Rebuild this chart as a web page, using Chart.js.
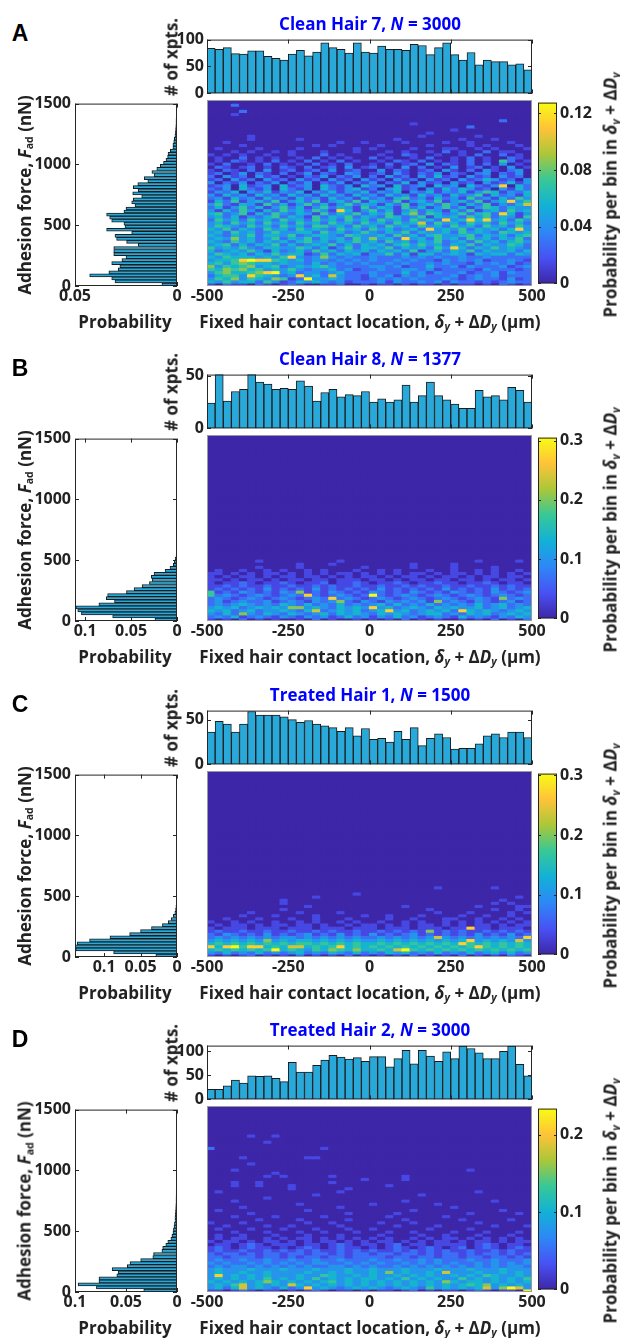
<!DOCTYPE html>
<html>
<head>
<meta charset="utf-8">
<script src="https://cdn.jsdelivr.net/npm/chart.js@4.4.1/dist/chart.umd.min.js"></script>
<style>
body { margin: 0; background: #fff; }
#fig { position: relative; width: 620px; height: 1338px; overflow: hidden;
       font-family: 'Open Sans', sans-serif; font-weight: 700; color: #222; }
#fig canvas { position: absolute; }
.txt { position: absolute; white-space: nowrap; transform: translate(-50%, -50%); font-size: 17px; line-height: 1; }
.rot { transform: translate(-50%, -50%) rotate(-90deg); }
.title { color: #0000ff; }
.letter { font-family: 'Liberation Sans', Arial, sans-serif; font-size: 23px; color: #000; }
.txt sub { font-size: 62%; vertical-align: -0.25em; line-height: 0; }
</style>
</head>
<body>
<div id="fig"></div>
<script>
// --- Axes shared by all panels ---
const LOC_MIN = -500, LOC_MAX = 500, LOC_STEP = 25;      // contact location bins (µm)
const FORCE_MAX = 1500, FORCE_STEP = 25;                  // adhesion force bins (nN)
const LOC_TICKS = [-500, -250, 0, 250, 500];
const FORCE_TICKS = [0, 500, 1000, 1500];

// --- Panel A: Clean Hair 7 ---
const countsA = [84, 82, 85, 74, 73, 79, 79, 69, 65, 62, 73, 80, 70, 77, 94, 85, 82, 75, 94, 77,
                 75, 88, 82, 82, 80, 91, 89, 72, 85, 94, 72, 62, 76, 53, 62, 59, 59, 53, 55, 44];
const probA = [0.0074, 0.0304, 0.032, 0.0428, 0.0334, 0.0288, 0.028, 0.032, 0.027, 0.025,
               0.031, 0.031, 0.031, 0.019, 0.0247, 0.0296, 0.0304, 0.0222, 0.0345, 0.0255,
               0.026, 0.032, 0.033, 0.0345, 0.026, 0.025, 0.0206, 0.0222, 0.0214, 0.0173,
               0.0217, 0.019, 0.0214, 0.0192, 0.0143, 0.016, 0.0112, 0.0123, 0.0099, 0.0082,
               0.0066, 0.0054, 0.0046, 0.0044, 0.0033, 0.002, 0.002, 0.0016, 0.0013, 0.001,
               0.0008, 0.0007, 0.0006, 0.0005, 0.0005, 0.0004, 0.0003, 0.0003, 0.0002, 0.0002];
// heat map rows from 0 nN upward, one digit per location bin: 0..9 of the colour bar range
const heatA = [
  "1021102101210011200101101011010110102101",
  "4353442531243432312223132232313221212322",
  "3546354365129334322123232322232123221312",
  "2455385432383427322132313232223123231222",
  "3564456893423323422232224231322312231322",
  "5465645343532334231223223323122221322212",
  "6354563452343453222233231224223132223123",
  "4535654434332423232322323223232213232312",
  "3445898854342332323232232322132323122321",
  "4354443435832363232232223232322322322222",
  "3543424353441252434133524144234314344243",
  "4234353142342534243424342513424352433424",
  "5343532443354241352443524342538424353432",
  "3452424352423435242434245353424352433542",
  "4325342434245342435342534243523425342453",
  "3436342352435243425363428342534253424352",
  "4324352443523443254334253424533452434245",
  "3425342353344253423532435243342534325434",
  "4352432534253432534253423428343524342483",
  "3543253425342553425342534253425342534253",
  "3425342534253425342534253472534253425342",
  "2534253425342534253425342534283484834253",
  "3424132452431524352432542351434253524315",
  "4523514253243152435243514625423524528413",
  "3142531425342531841352413524314251342534",
  "2413524135241352431524315241352413542433",
  "3521431524135241352431425134253142513247",
  "1425134251342513425143251342513425134835",
  "2314231423142314231423145231423152314253",
  "3142314231423142314231423142314235142314",
  "1324032413240324132413240324132413541324",
  "2130421304213042134120341203142431203142",
  "1230412304123042130423041230423042138042",
  "3021302130213021302130214031203120312413",
  "1203120312031203120312031203120312431203",
  "2031203120102130213020312031412031203120",
  "1201302102013021032012031021302102302130",
  "1021020301201203012003021012031020310230",
  "0210120102102012030120103020103012010301",
  "1020010201010201020010201203021020203010",
  "0102101020102010201001021020101020105201",
  "0100201010010201010020100102001020100210",
  "1010100100100020100001002100100102002010",
  "0001010010100010001000101001020100201100",
  "0100001000010000001010000100011001010001",
  "0000100000000101000001000001000010100010",
  "0010000000000000100100001000010010000100",
  "0000010000010000000000010000000100010000",
  "0000010000000000000000000010000001000000",
  "0000000000000000000000000001000000000000",
  "0000000000000000000000000000001000000000",
  "0000000000000000000000000000000020000000",
  "0000000000000000000000000100000000000000",
  "0000000000000000000000000000000000002000",
  "",
  "0001000000000000000000000000000000000000",
  "0000200000000000000000000000000000000000",
  "",
  "0002000000000000000000000000000000000000"
];

// --- Panel B: Clean Hair 8 ---
const countsB = [24, 52, 26, 35, 37, 52, 44, 42, 37, 38, 37, 45, 40, 26, 34, 37, 30, 32, 31, 35,
                 25, 28, 25, 27, 41, 25, 31, 44, 31, 27, 23, 19, 19, 36, 30, 31, 27, 39, 36, 25];
const probB = [0.024, 0.07, 0.104, 0.108, 0.11, 0.085, 0.068, 0.077, 0.0755, 0.055,
               0.0467, 0.038, 0.03, 0.027, 0.028, 0.025, 0.013, 0.0076, 0.004, 0.003, 0.002, 0.001];
const heatB = [
  "1010201010010201001010102010100101020102",
  "2324123213213231242313242312321423213243",
  "3242632432432342434324343234423243423434",
  "4342342334324723434234834234342843432343",
  "3434234343663432434383423432434334234234",
  "2323432324324232423234242324232324234232",
  "2312322312321323621321323231623213212312",
  "2321232123212328232123212321232123216232",
  "5232123212328212321292123212321232123212",
  "5121321213261213212132121321213212132123",
  "1212121312121312121213121212131212131212",
  "1121211211211212112112112121121121121211",
  "1011210112101120112101121011211011210110",
  "1101011010110110111011010110110110101101",
  "1010110101101101010110101101011010110110",
  "1101010110101010110101010110101101010101",
  "0100100101001010001001010001001001010010",
  "0000001000010000000100000100001000010000",
  "0000000000010001000000000100001000000000",
  "0000001000000000100000000000000001000010"
];

// --- Panel C: Treated Hair 1 ---
const countsC = [36, 48, 45, 36, 45, 59, 55, 55, 55, 53, 50, 47, 49, 45, 43, 41, 37, 41, 32, 40,
                 28, 29, 25, 37, 28, 41, 21, 29, 34, 30, 17, 18, 18, 23, 32, 34, 30, 36, 36, 30];
const probC = [0.029, 0.087, 0.139, 0.14, 0.137, 0.12, 0.092, 0.065, 0.05, 0.035,
               0.02, 0.012, 0.008, 0.005, 0.003, 0.002, 0.0015, 0.001, 0.001, 0.0008,
               0.0006, 0.0005, 0.0004];
const heatC = [
  "1010120101020101020101010201010201010210",
  "3242324232342324324232434232423242342423",
  "4545454594543546546445479545454545454545",
  "8489588454774545845454545454545458545454",
  "4545454545455454545445454545454854545454",
  "3434343634344343434334343434343483434373",
  "2323232323323232323223232323732323232328",
  "2132121312123121312131212312121213121312",
  "1211211211211212112112121216121211212121",
  "1011101110111011101110111011101181101110",
  "0101101011011010010110101011010101101011",
  "1001010010010100101001001010010101010101",
  "0010001000100100010000100100011001001010",
  "0000100010000100000100100010000100100100",
  "0000010000010000100000000000100010000101",
  "0000000001000000000000000001000000010010",
  "0000000000001000000000001000000001000011",
  "0000000001000000000000000000000000010100",
  "0000000001000000000000000000000000001000",
  "0000000000000100000000000000000000000010",
  "0000000000000000001000000000000000000000",
  "",
  "0000000000000000000000000000100000010000"
];

// --- Panel D: Treated Hair 2 ---
const countsD = [21, 21, 28, 40, 34, 49, 48, 49, 44, 37, 77, 57, 57, 71, 82, 92, 88, 84, 87, 79,
                 89, 89, 68, 85, 102, 74, 102, 90, 79, 99, 85, 111, 106, 97, 85, 85, 100, 111, 73, 49];
const probD = [0.0326, 0.079, 0.097, 0.0765, 0.0765, 0.059, 0.0577, 0.0636, 0.0487, 0.046,
               0.0356, 0.0237, 0.023, 0.0148, 0.014, 0.011, 0.009, 0.006, 0.005, 0.004,
               0.0035, 0.003, 0.0025, 0.002, 0.002, 0.0018, 0.0015, 0.0013, 0.0012, 0.001,
               0.001, 0.0009, 0.0008, 0.0008, 0.0007, 0.0007, 0.0006, 0.0006, 0.0005, 0.0005,
               0.0005, 0.0004, 0.0004, 0.0004, 0.0003, 0.0003, 0.0003, 0.0003, 0.0002, 0.0002];
const heatD = [
  "1101210110101210110101101201011012101109",
  "3424734324238343234343234325343434736973",
  "3435734343743434343434343434343454634343",
  "4343434643434345343434343434364344343434",
  "3434343534343534343443435343433534343435",
  "3834343433343354334343343434334343543343",
  "3433433433334334343343634334373334334343",
  "3433343334333433343343334333433343334333",
  "2323323232323223323232232323232323232332",
  "3232232323232332232323223232323223232323",
  "2322322322322322322232232232322232232223",
  "2212221221212212212222122122122122122121",
  "2122121221221221212212212212122121221212",
  "1211211212121211212121121212121121121211",
  "1210121101012101211010121012101201210121",
  "0110121011101101210110120110111101210110",
  "1011010110101011010101101010110101101011",
  "0101100101011010101010100101011010101010",
  "0100100010001000100001000010010001000100",
  "0001000100010010001000100100001000100010",
  "0100010001000100010010000001000010000000",
  "0010000100100000100000010000100000010001",
  "1000100000001001000001000100000001000000",
  "0000001000010000010000001000000100000100",
  "0001000010000010000000100000010000000000",
  "0000010000000000010000010000000010000010",
  "0100000000001000000000000100000000001000",
  "0000100000000000100000000000001000000000",
  "0000000000010000000010000000100000000000",
  "0001000000000000000000001000000000010000",
  "0000000100000000000000000000000000000000",
  "0000000000000100000000000010000000000000",
  "0100000000000000100000000000000001000000",
  "0000000000100000010000000000000000000000",
  "0001001000100000000000100000000000000000",
  "0001001000000001000000000000000000000000",
  "0000000000000000000100001000000000000000",
  "0000000101000001000000001000000000000000",
  "0000000010000000000000000000000000000000",
  "0001000000000000000000000000000010000000",
  "",
  "0000010000000000000000000000000000000000",
  "",
  "0000100000001100000000000000000000000000",
  "",
  "",
  "2000000000000010000000000000000000000000",
  "",
  "0000000100000000000000000000000000000000",
  "",
  "0000010010000000000000000000000000000000"
];

// colour bar ranges and ticks
const cmaxes = [0.1275, 0.305, 0.303, 0.234];
const cbarTicks = [[0, 0.04, 0.08, 0.12], [0, 0.1, 0.2, 0.3], [0, 0.1, 0.2, 0.3], [0, 0.1, 0.2]];
const countMaxes = [100, 51, 60, 112];
const countTicks = [[0, 50, 100], [0, 50], [0, 50], [0, 50, 100]];
const probMaxes = [0.05, 0.111, 0.14, 0.1];
const probTicks = [[0, 0.05], [0, 0.05, 0.1], [0, 0.05, 0.1], [0, 0.05, 0.1]];

const titles = ['Clean Hair 7, <i>N</i> = 3000', 'Clean Hair 8, <i>N</i> = 1377',
                'Treated Hair 1, <i>N</i> = 1500', 'Treated Hair 2, <i>N</i> = 3000'];
const letters = ['A', 'B', 'C', 'D'];
const panelTops = [100, 435, 771, 1106];   // top edge of each heat map
const HEAT_H = 186;

// parula colour map stops
const PARULA = [
  [0 / 7, 62, 38, 168], [1 / 7, 72, 82, 244], [2 / 7, 46, 135, 247], [3 / 7, 18, 177, 214],
  [4 / 7, 55, 200, 151], [5 / 7, 171, 199, 57], [6 / 7, 254, 195, 56], [7 / 7, 249, 251, 21]
];
const BAR_FILL = '#29a9d9';
const BAR_EDGE = '#1b1b1b';

function parula(t) {
  t = Math.max(0, Math.min(1, t));
  for (let i = 1; i < PARULA.length; i++) {
    const a = PARULA[i - 1], b = PARULA[i];
    if (t <= b[0]) {
      const f = (t - a[0]) / (b[0] - a[0]);
      const c = [1, 2, 3].map(k => Math.round(a[k] + (b[k] - a[k]) * f));
      return `rgb(${c[0]},${c[1]},${c[2]})`;
    }
  }
  return 'rgb(249,251,21)';
}

Chart.defaults.font.family = "'Open Sans', sans-serif";
Chart.defaults.font.size = 16;
Chart.defaults.font.weight = '700';
Chart.defaults.color = '#222';

// box round the plot area with short inward ticks, like the original axes
const framePlugin = {
  id: 'frame',
  defaults: { color: '#262626', xTicks: false, yTicks: false, len: 4, bg: null },
  beforeDatasetsDraw(chart, args, opts) {
    if (!opts.bg) return;
    const a = chart.chartArea, ctx = chart.ctx;
    ctx.save();
    ctx.fillStyle = opts.bg;
    ctx.fillRect(a.left, a.top, a.right - a.left, a.bottom - a.top);
    ctx.restore();
  },
  afterDatasetsDraw(chart, args, opts) {
    const a = chart.chartArea, ctx = chart.ctx;
    ctx.save();
    ctx.strokeStyle = opts.color;
    ctx.lineWidth = 1;
    ctx.beginPath();
    const xs = chart.scales.x, ys = chart.scales.y;
    if (opts.xTicks && xs) {
      xs.ticks.forEach(t => {
        const p = Math.round(xs.getPixelForValue(t.value)) + 0.5;
        ctx.moveTo(p, a.bottom); ctx.lineTo(p, a.bottom - opts.len);
        ctx.moveTo(p, a.top); ctx.lineTo(p, a.top + opts.len);
      });
    }
    if (opts.yTicks && ys) {
      ys.ticks.forEach(t => {
        const p = Math.round(ys.getPixelForValue(t.value)) + 0.5;
        ctx.moveTo(a.left, p); ctx.lineTo(a.left + opts.len, p);
        ctx.moveTo(a.right, p); ctx.lineTo(a.right - opts.len, p);
      });
    }
    ctx.stroke();
    ctx.strokeRect(a.left + 0.5, a.top + 0.5, a.right - a.left - 1, a.bottom - a.top - 1);
    ctx.restore();
  }
};
Chart.register(framePlugin);

const fig = document.getElementById('fig');

function makeCanvas(x, y, w, h) {
  const c = document.createElement('canvas');
  c.width = w; c.height = h;
  c.style.left = x + 'px'; c.style.top = y + 'px';
  c.style.width = w + 'px'; c.style.height = h + 'px';
  fig.appendChild(c);
  return c;
}

function addText(html, x, y, cls) {
  const d = document.createElement('div');
  d.className = 'txt ' + (cls || '');
  d.innerHTML = html;
  d.style.left = x + 'px'; d.style.top = y + 'px';
  fig.appendChild(d);
}

const fixedTicks = values => scale => { scale.ticks = values.map(v => ({ value: v })); };
const plainLabel = v => String(v);
const quiet = { legend: { display: false }, tooltip: { enabled: false } };
const noGrid = { display: false, drawTicks: false };

function locCenters() {
  const c = [];
  for (let x = LOC_MIN; x < LOC_MAX; x += LOC_STEP) c.push(x + LOC_STEP / 2);
  return c;
}

function drawPanel(i, counts, probs, heat) {
  const T = panelTops[i];
  const centers = locCenters();
  const cmax = cmaxes[i];

  // heat map: one floating bar per (location, force) cell
  const cells = [], cellColors = [];
  const nRows = FORCE_MAX / FORCE_STEP;
  for (let r = 0; r < nRows; r++) {
    const row = heat[r] || '';
    centers.forEach((cx, c) => {
      const level = row.length > c ? Number(row[c]) : 0;
      cells.push({ x: cx, y: [r * FORCE_STEP, (r + 1) * FORCE_STEP] });
      cellColors.push(parula(level / 9));
    });
  }
  new Chart(makeCanvas(182, T - 5, 375, HEAT_H + 35), {
    type: 'bar',
    data: { datasets: [{ data: cells, backgroundColor: cellColors, borderWidth: 0,
                         inflateAmount: 0.6, barPercentage: 1, categoryPercentage: 1 }] },
    options: {
      responsive: false, animation: false, events: [],
      layout: { padding: { left: 25, right: 25, top: 5, bottom: 0 } },
      plugins: { ...quiet, frame: { color: '#9a9a9a', bg: parula(0) } },
      scales: {
        x: { type: 'linear', min: LOC_MIN, max: LOC_MAX, offset: false,
             afterBuildTicks: fixedTicks(LOC_TICKS), afterFit: s => { s.height = 30; },
             grid: noGrid, border: { display: false },
             ticks: { padding: 1, maxRotation: 0, autoSkip: false, callback: plainLabel } },
        y: { type: 'linear', min: 0, max: FORCE_MAX, display: false }
      }
    }
  });

  // top histogram: counts per location bin
  new Chart(makeCanvas(150, T - 73, 407, 79), {
    type: 'bar',
    data: { datasets: [{ data: counts.map((n, k) => ({ x: centers[k], y: n })),
                         backgroundColor: BAR_FILL, borderColor: BAR_EDGE, borderWidth: 1,
                         borderSkipped: 'start', barPercentage: 1, categoryPercentage: 1 }] },
    options: {
      responsive: false, animation: false, events: [],
      layout: { padding: { left: 0, right: 25, top: 10, bottom: 10 } },
      plugins: { ...quiet, frame: { xTicks: true, yTicks: true } },
      scales: {
        x: { type: 'linear', min: LOC_MIN, max: LOC_MAX, offset: false,
             afterBuildTicks: fixedTicks(LOC_TICKS), afterFit: s => { s.height = 0; },
             grid: noGrid, border: { display: false }, ticks: { display: false } },
        y: { type: 'linear', min: 0, max: countMaxes[i],
             afterBuildTicks: fixedTicks(countTicks[i]), afterFit: s => { s.width = 57; },
             grid: noGrid, border: { display: false },
             ticks: { padding: 3, autoSkip: false, callback: plainLabel } }
      }
    }
  });

  // left histogram: probability per force bin, drawn leftwards
  new Chart(makeCanvas(30, T - 10, 155, HEAT_H + 36), {
    type: 'bar',
    data: { datasets: [{ data: probs.map((p, k) => ({ x: p, y: k * FORCE_STEP + FORCE_STEP / 2 })),
                         backgroundColor: BAR_FILL, borderColor: BAR_EDGE, borderWidth: 1,
                         borderSkipped: false, barPercentage: 1, categoryPercentage: 1 }] },
    options: {
      indexAxis: 'y',
      responsive: false, animation: false, events: [],
      layout: { padding: { left: 0, right: 8, top: 10, bottom: 0 } },
      plugins: { ...quiet, frame: { xTicks: true, yTicks: true } },
      scales: {
        y: { type: 'linear', min: 0, max: FORCE_MAX, offset: false,
             afterBuildTicks: fixedTicks(FORCE_TICKS), afterFit: s => { s.width = 45; },
             grid: noGrid, border: { display: false },
             ticks: { padding: 4, autoSkip: false, callback: plainLabel } },
        x: { type: 'linear', min: 0, max: probMaxes[i], reverse: true,
             afterBuildTicks: fixedTicks(probTicks[i]), afterFit: s => { s.height = 26; },
             grid: noGrid, border: { display: false },
             ticks: { padding: 1, maxRotation: 0, autoSkip: false, callback: plainLabel } }
      }
    }
  });

  // colour bar
  new Chart(makeCanvas(538, T - 10, 64, HEAT_H + 20), {
    type: 'bar',
    data: { labels: [''], datasets: [{
      data: [[0, cmax]], borderWidth: 0, barPercentage: 1, categoryPercentage: 1,
      backgroundColor: ctx => {
        const a = ctx.chart.chartArea;
        if (!a) return parula(0);
        const g = ctx.chart.ctx.createLinearGradient(0, a.bottom, 0, a.top);
        PARULA.forEach(s => g.addColorStop(s[0], parula(s[0])));
        return g;
      } }] },
    options: {
      responsive: false, animation: false, events: [],
      layout: { padding: { left: 0, right: 0, top: 10, bottom: 10 } },
      plugins: { ...quiet, frame: { yTicks: true, len: 3 } },
      scales: {
        x: { display: false },
        y: { type: 'linear', position: 'right', min: 0, max: cmax,
             afterBuildTicks: fixedTicks(cbarTicks[i]), afterFit: s => { s.width = 45; },
             grid: noGrid, border: { display: false },
             ticks: { padding: 3, autoSkip: false, callback: plainLabel } }
      }
    }
  });

  // text
  addText(letters[i], 20, T - 67, 'letter');
  addText(titles[i], 370, T - 77, 'title');
  addText('# of xpts.', 171, T - 43, 'rot');
  addText('Adhesion force, <i>F</i><sub>ad</sub> (nN)', 24, T + 95, 'rot');
  addText('Probability', 125, T + 221);
  addText('Fixed hair contact location, <i>δ</i><sub><i>y</i></sub> + Δ<i>D</i><sub><i>y</i></sub> (µm)', 370, T + 221);
  addText('Probability per bin in <i>δ</i><sub><i>y</i></sub> + Δ<i>D</i><sub><i>y</i></sub>', 610, T + 95, 'rot');
}

drawPanel(0, countsA, probA, heatA);
drawPanel(1, countsB, probB, heatB);
drawPanel(2, countsC, probC, heatC);
drawPanel(3, countsD, probD, heatD);
</script>
</body>
</html>
